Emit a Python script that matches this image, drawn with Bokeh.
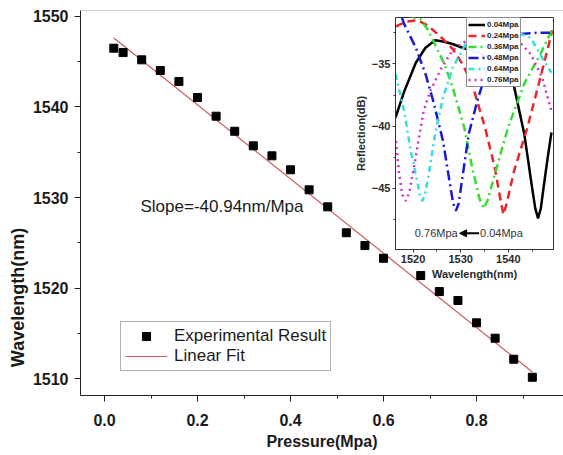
import math
from bokeh.plotting import figure
from bokeh.models import (Range1d, SingleIntervalTicker, Label, Legend, LegendItem,
                          Span, Arrow, NormalHead, PrintfTickFormatter)
from bokeh.embed import file_html
from bokeh.resources import INLINE

# ---------------- data ----------------
pressure = [0.02, 0.04, 0.08, 0.12, 0.16, 0.20, 0.24, 0.28, 0.32, 0.36, 0.40, 0.44,
            0.48, 0.52, 0.56, 0.60, 0.68, 0.72, 0.76, 0.80, 0.84, 0.88, 0.92]
wavelength = [1546.47, 1545.99, 1545.19, 1544.01, 1542.80, 1541.03, 1538.97, 1537.31,
              1535.70, 1534.60, 1533.06, 1530.85, 1528.97, 1526.11, 1524.70, 1523.30,
              1521.40, 1519.63, 1518.64, 1516.18, 1514.48, 1512.16, 1510.17]
fit_slope = -40.94
fit_intercept = 1548.42

spec_labels = ["0.04Mpa", "0.24Mpa", "0.36Mpa", "0.48Mpa", "0.64Mpa", "0.76Mpa"]
s004_x = [1516.30, 1518.14, 1520.57, 1522.60, 1524.64, 1526.29, 1528.32, 1530.36, 1533.07,
          1535.98, 1538.89, 1541.21, 1543.35, 1544.99, 1545.67, 1546.25, 1546.84, 1547.42,
          1548.29, 1549.07]
s004_y = [-39.3, -37.2, -34.9, -33.7, -33.1, -33.2, -33.4, -33.7, -34.0,
          -34.5, -35.5, -36.8, -40.6, -44.9, -46.6, -47.4, -46.6, -44.9,
          -42.5, -40.5]
s024_x = [1516.30, 1518.53, 1520.86, 1522.60, 1524.25, 1526.29, 1528.32, 1530.36, 1532.39,
          1535.11, 1537.14, 1538.40, 1538.98, 1539.66, 1541.21, 1544.02, 1546.74, 1549.26]
s024_y = [-32.0, -31.6, -31.5, -31.8, -32.3, -33.0, -33.8, -35.0, -36.6,
          -40.1, -43.3, -46.0, -47.1, -46.2, -43.6, -40.1, -36.1, -32.3]
s036_x = [1519.01, 1521.54, 1523.18, 1524.93, 1526.67, 1528.32, 1530.74, 1532.39, 1533.94,
          1534.82, 1535.69, 1537.14, 1539.95, 1543.35, 1546.74, 1549.26]
s036_y = [-31.1, -31.4, -32.3, -33.7, -35.1, -36.9, -40.1, -43.3, -45.8,
          -46.6, -45.9, -43.9, -40.1, -36.6, -34.2, -32.2]
s048_x = [1517.66, 1518.14, 1520.57, 1522.60, 1524.25, 1526.29, 1527.64, 1528.42, 1529.00,
          1529.58, 1530.36, 1531.71, 1533.46, 1535.49, 1537.92, 1539.86, 1541.99, 1546.06,
          1548.77]
s048_y = [-31.3, -31.8, -33.7, -35.8, -38.0, -41.2, -44.4, -46.2, -46.8,
          -46.2, -44.1, -40.6, -38.0, -35.5, -33.5, -32.7, -32.6, -32.5,
          -32.5]
s064_x = [1516.30, 1518.14, 1519.50, 1520.86, 1521.44, 1521.92, 1522.50, 1523.28, 1524.64,
          1526.29, 1528.32, 1531.03, 1534.04, 1536.95, 1539.37, 1541.99, 1544.70, 1547.42,
          1549.07]
s064_y = [-35.8, -38.8, -42.0, -44.4, -45.6, -46.0, -45.5, -43.9, -40.6,
          -37.7, -35.3, -33.4, -32.5, -32.3, -32.3, -32.5, -32.9, -34.7,
          -35.7]
s076_x = [1516.40, 1517.08, 1517.75, 1518.43, 1519.21, 1520.18, 1521.24, 1522.21, 1523.57,
          1525.99, 1528.32, 1530.36, 1533.56, 1536.95, 1539.86, 1541.99, 1544.70, 1547.13,
          1549.07]
s076_y = [-41.2, -43.9, -45.5, -46.0, -45.3, -43.3, -40.9, -38.8, -37.2,
          -35.3, -33.9, -33.3, -32.9, -32.8, -32.9, -33.1, -34.2, -36.1,
          -38.8]

FONT = "Liberation Sans"
W, H = 563, 455

# ---------------- main figure ----------------
X0, X1 = -0.0516, 0.987
Y0, Y1 = 1508.16, 1550.63
p = figure(width=W, height=H, output_backend="svg", toolbar_location=None,
           x_range=Range1d(X0, X1), y_range=Range1d(Y0, Y1),
           min_border_left=80, min_border_right=0, min_border_top=10, min_border_bottom=60)
p.outline_line_color = None
p.grid.visible = False
p.xaxis.ticker = SingleIntervalTicker(interval=0.2, num_minor_ticks=2)
p.yaxis.ticker = SingleIntervalTicker(interval=10, num_minor_ticks=2)
p.xaxis.formatter = PrintfTickFormatter(format="%.1f")
for ax in (p.xaxis[0], p.yaxis[0]):
    ax.axis_line_color = "#222222"
    ax.major_tick_line_color = "#222222"
    ax.minor_tick_line_color = "#222222"
    ax.major_tick_in = 0
    ax.major_tick_out = 6
    ax.minor_tick_in = 0
    ax.minor_tick_out = 3
    ax.major_label_text_font = FONT
    ax.major_label_text_font_style = "bold"
    ax.major_label_text_font_size = "16px"
    ax.major_label_text_color = "#1a1a1a"
p.xaxis.major_label_standoff = 12
p.yaxis.major_label_standoff = 6
p.xaxis.axis_label = "Pressure(Mpa)"
p.xaxis.axis_label_text_font = FONT
p.xaxis.axis_label_text_font_style = "bold"
p.xaxis.axis_label_text_font_size = "16px"
p.xaxis.axis_label_text_color = "#1a1a1a"
p.xaxis.axis_label_standoff = 4

p.add_layout(Span(location=Y1, dimension="width", line_color="#a0a0a0", line_width=1))

fit_x = [pressure[0], pressure[-1]]
fit_y = [fit_intercept + fit_slope * v for v in fit_x]
ln = p.line(fit_x, fit_y, line_color="#cc5a5a", line_width=1.2)
sc = p.scatter(pressure, wavelength, marker="square", size=8, fill_color="black",
               line_color="black")

leg = Legend(items=[LegendItem(label="Experimental Result", renderers=[sc]),
                    LegendItem(label="Linear Fit", renderers=[ln])],
             location=(40, 24))
leg.label_text_font = FONT
leg.label_text_font_size = "17px"
leg.label_text_color = "#1a1a1a"
leg.glyph_width = 42
leg.glyph_height = 20
leg.label_height = 20
leg.label_standoff = 7
leg.padding = 4
leg.spacing = 0
leg.margin = 0
leg.border_line_color = "#666666"
leg.border_line_width = 1
p.add_layout(leg)

p.add_layout(Label(x=0.0774, y=1529.0, text="Slope=-40.94nm/Mpa", text_font=FONT,
                   text_font_size="17px", text_color="#1a1a1a", text_baseline="middle"))

# ---------------- inset ----------------
q = figure(width=204, height=268, output_backend="svg", toolbar_location=None,
           x_range=Range1d(1516.3, 1549.5), y_range=Range1d(-49.9, -31.27),
           min_border_left=40, min_border_right=2, min_border_top=2, min_border_bottom=34)
q.background_fill_color = "white"
q.border_fill_color = None
q.outline_line_color = "#333333"
q.grid.visible = False
q.styles = {"position": "absolute", "left": "351px", "top": "15px"}
q.xaxis.ticker = SingleIntervalTicker(interval=10, num_minor_ticks=2)
q.yaxis.ticker = SingleIntervalTicker(interval=5, num_minor_ticks=2)
for ax in (q.xaxis[0], q.yaxis[0]):
    ax.axis_line_color = "#333333"
    ax.major_tick_line_color = "#333333"
    ax.minor_tick_line_color = "#333333"
    ax.major_tick_in = 0
    ax.major_tick_out = 3
    ax.minor_tick_in = 0
    ax.minor_tick_out = 2
    ax.major_label_text_font = FONT
    ax.major_label_text_font_style = "bold"
    ax.major_label_text_font_size = "11px"
    ax.major_label_text_color = "#2a2a2a"
    ax.major_label_standoff = 2
    ax.axis_label_text_font = FONT
    ax.axis_label_text_font_style = "bold"
    ax.axis_label_text_font_size = "11px"
    ax.axis_label_text_color = "#2a2a2a"
    ax.axis_label_standoff = 2
q.xaxis.axis_label = "Wavelength(nm)"
q.yaxis.axis_label = "Reflection(dB)"

series = [(s004_x, s004_y, "black", "solid", 2.5),
          (s024_x, s024_y, "#e8262b", "8 5", 2.5),
          (s036_x, s036_y, "#33dd33", "8 4 2 4", 2.5),
          (s048_x, s048_y, "#1a1ad0", "10 4 2 4", 2.5),
          (s064_x, s064_y, "#33dde0", "6 4 2 4", 2.5),
          (s076_x, s076_y, "#cc33cc", "2 4", 2.5)]
items = []
for (sx, sy, col, dash, lw), lab in zip(series, spec_labels):
    r = q.line(sx, sy, line_color=col, line_dash=dash, line_width=lw)
    items.append(LegendItem(label=lab, renderers=[r]))

ileg = Legend(items=items, location=(71, 162))
ileg.label_text_font = FONT
ileg.label_text_font_size = "8px"
ileg.label_text_font_style = "bold"
ileg.label_text_color = "#222222"
ileg.glyph_width = 17
ileg.glyph_height = 11
ileg.label_height = 11
ileg.label_standoff = 2
ileg.padding = 1
ileg.spacing = 0
ileg.margin = 0
ileg.border_line_color = "#222222"
q.add_layout(ileg)

q.add_layout(Arrow(end=NormalHead(size=7, fill_color="black", line_color="black"),
                   x_start=1533.85, y_start=-48.6, x_end=1529.77, y_end=-48.6,
                   line_width=2, line_color="black"))
q.add_layout(Label(x=1529.36, y=-48.6, text="0.76Mpa", text_font=FONT, text_font_size="11px",
                   text_color="#333333", text_align="right", text_baseline="middle"))
q.add_layout(Label(x=1534.06, y=-48.6, text="0.04Mpa", text_font=FONT, text_font_size="11px",
                   text_color="#333333", text_align="left", text_baseline="middle"))

# ---------------- overlay for the off-centre y-axis title ----------------
o = figure(width=W, height=H, output_backend="svg", toolbar_location=None,
           x_range=Range1d(0, W), y_range=Range1d(H, 0),
           x_axis_location=None, y_axis_location=None,
           min_border_left=0, min_border_right=0, min_border_top=0, min_border_bottom=0)
o.outline_line_color = None
o.background_fill_color = None
o.border_fill_color = None
o.grid.visible = False
o.styles = {"position": "absolute", "left": "0px", "top": "0px"}
o.add_layout(Label(x=17.5, y=297, text="Wavelength(nm)", angle=math.pi / 2,
                   text_font=FONT, text_font_size="18px", text_font_style="bold",
                   text_color="#1a1a1a", text_align="center", text_baseline="middle"))

open("out.html", "w").write(file_html([p, q, o], INLINE))
